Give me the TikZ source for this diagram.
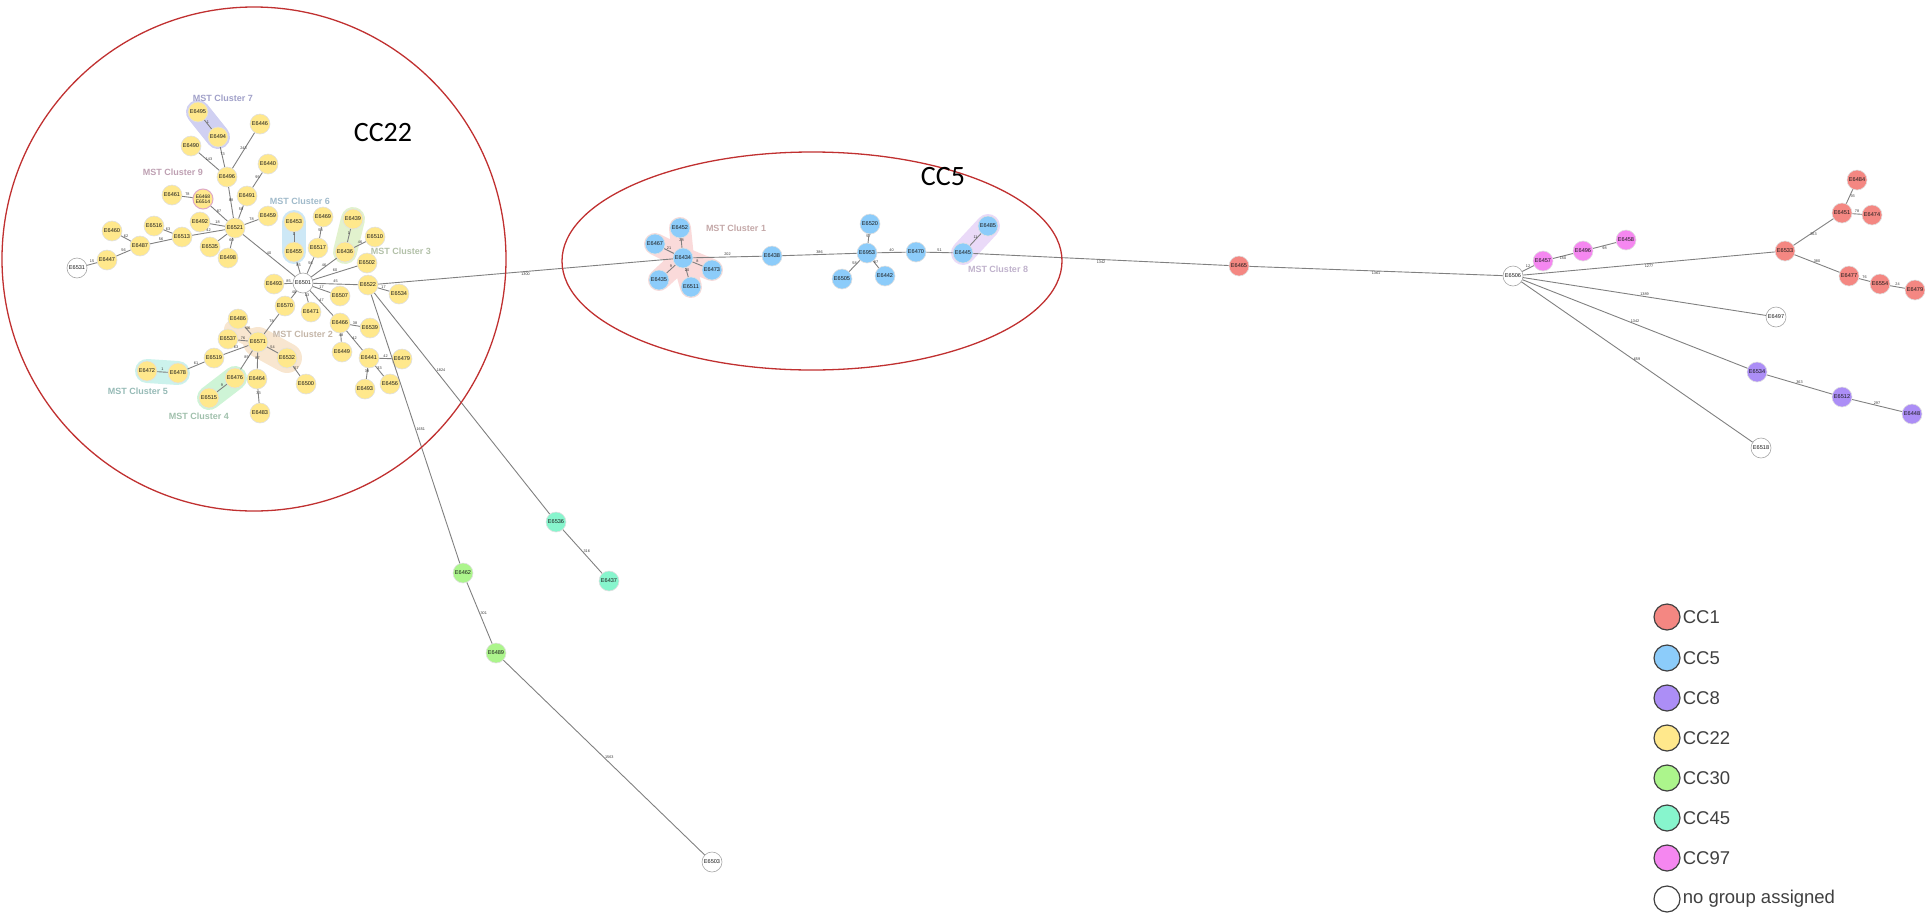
\documentclass[tikz,border=0pt]{standalone}
\usepackage{fontspec}
\setmainfont{Liberation Sans}
\newfontfamily\calib{Carlito}
\usetikzlibrary{backgrounds,calc}
\definecolor{cA}{RGB}{244,135,130}
\definecolor{cB}{RGB}{140,204,250}
\definecolor{cC}{RGB}{172,142,246}
\definecolor{cD}{RGB}{255,232,140}
\definecolor{cE}{RGB}{172,245,140}
\definecolor{cF}{RGB}{135,245,205}
\definecolor{cG}{RGB}{245,135,240}
\definecolor{ring}{RGB}{192,48,48}
\definecolor{h7}{RGB}{208,208,242}
\definecolor{h9}{RGB}{222,170,200}
\definecolor{h6}{RGB}{205,232,246}
\definecolor{h3}{RGB}{226,242,206}
\definecolor{h2}{RGB}{248,230,208}
\definecolor{h5}{RGB}{204,242,236}
\definecolor{h4}{RGB}{206,244,214}
\definecolor{h1}{RGB}{250,218,218}
\definecolor{h8}{RGB}{234,218,248}
\definecolor{t7}{RGB}{160,160,200}
\definecolor{t9}{RGB}{190,160,178}
\definecolor{t6}{RGB}{160,186,202}
\definecolor{t3}{RGB}{178,192,168}
\definecolor{t2}{RGB}{196,182,168}
\definecolor{t5}{RGB}{150,186,182}
\definecolor{t4}{RGB}{160,192,172}
\definecolor{t1}{RGB}{196,168,168}
\definecolor{t8}{RGB}{192,178,204}
\tikzset{
  nd/.style={circle,minimum size=20pt,inner sep=0pt,draw=black!12,line width=0.6pt,font=\fontsize{5.6}{6}\selectfont,text=black!90},
  ya/.style={nd,fill=cD},
  bl/.style={nd,fill=cB},
  rd/.style={nd,fill=cA},
  pu/.style={nd,fill=cC},
  gr/.style={nd,fill=cE},
  te/.style={nd,fill=cF},
  mg/.style={nd,fill=cG},
  wh/.style={nd,fill=white,draw=black!35},
  ed/.style={draw=black!50,line width=0.9pt},
  el/.style={font=\fontsize{3.8}{4}\selectfont,text=black!80,inner sep=0.6pt,midway,above},
  mst/.style={font=\bfseries\fontsize{9}{10}\selectfont},
  hl/.style={line width=24pt,line cap=round,line join=round},
  lg/.style={circle,minimum size=26pt,inner sep=0pt,draw=black!75,line width=1.2pt},
  lt/.style={anchor=west,font=\fontsize{18.5}{20}\selectfont,text=black!75,inner sep=2pt},
  big/.style={font=\calib\fontsize{28}{32}\selectfont}
}
\begin{document}
\begin{tikzpicture}[x=1pt,y=-1pt]
\useasboundingbox (0,0) rectangle (1925,916);
% ---------- CC22 ----------
\node[ya] (n6495) at (198,112) {E6495};
\node[ya] (n6494) at (218,137) {E6494};
\node[ya] (n6446) at (260,124) {E6446};
\node[ya] (n6490) at (191,146) {E6490};
\node[ya] (n6440) at (268,164) {E6440};
\node[ya] (n6496) at (227,177) {E6496};
\node[ya] (n6461) at (172,195) {E6461};
\node[ya,draw=h9,line width=1pt,align=center,font=\fontsize{5}{5.4}\selectfont] (n6468) at (203,199) {E6468\\E6514};
\node[ya] (n6491) at (247,196) {E6491};
\node[ya] (n6459) at (268,216) {E6459};
\node[ya] (n6492) at (200,222) {E6492};
\node[ya] (n6521) at (235,228) {E6521};
\node[ya] (n6516) at (154,226) {E6516};
\node[ya] (n6513) at (182,237) {E6513};
\node[ya] (n6487) at (140,246) {E6487};
\node[ya] (n6460) at (112,231) {E6460};
\node[ya] (n6447) at (107,260) {E6447};
\node[wh] (n6531) at (77,268) {E6531};
\node[ya] (n6535) at (210,247) {E6535};
\node[ya] (n6498) at (228,258) {E6498};
\node[ya] (n6453) at (294,222) {E6453};
\node[ya] (n6455) at (294,252) {E6455};
\node[ya] (n6469) at (323,217) {E6469};
\node[ya] (n6517) at (318,248) {E6517};
\node[ya] (n6439) at (353,219) {E6439};
\node[ya] (n6436) at (345,252) {E6436};
\node[ya] (n6510) at (375,237) {E6510};
\node[ya] (n6502) at (367,263) {E6502};
\node[ya] (n6493) at (274,284) {E6493};
\node[wh] (n6501) at (303,283) {E6501};
\node[ya] (n6522) at (368,285) {E6522};
\node[ya] (n6534) at (399,294) {E6534};
\node[ya] (n6507) at (340,296) {E6507};
\node[ya] (n6570) at (285,306) {E6570};
\node[ya] (n6471) at (311,312) {E6471};
\node[ya] (n6486) at (238,319) {E6486};
\node[ya] (n6571) at (258,342) {E6571};
\node[ya] (n6537) at (228,339) {E6537};
\node[ya] (n6466) at (340,323) {E6466};
\node[ya] (n6539) at (370,328) {E6539};
\node[ya] (n6519) at (214,358) {E6519};
\node[ya] (n6532) at (287,358) {E6532};
\node[ya] (n6449) at (342,352) {E6449};
\node[ya] (n6441) at (369,358) {E6441};
\node[ya] (n6479) at (402,359) {E6479};
\node[ya] (n6472) at (147,371) {E6472};
\node[ya] (n6478) at (178,373) {E6478};
\node[ya] (n6476) at (235,378) {E6476};
\node[ya] (n6464) at (257,379) {E6464};
\node[ya] (n6500) at (306,384) {E6500};
\node[ya] (n6493b) at (365,389) {E6493};
\node[ya] (n6456) at (390,384) {E6456};
\node[ya] (n6515) at (209,398) {E6515};
\node[ya] (n6483) at (260,413) {E6483};
% ---------- CC5 ----------
\node[bl] (n6452) at (680,228) {E6452};
\node[bl] (n6467) at (655,244) {E6467};
\node[bl] (n6434) at (683,258) {E6434};
\node[bl] (n6473) at (712,270) {E6473};
\node[bl] (n6435) at (659,280) {E6435};
\node[bl] (n6511) at (691,287) {E6511};
\node[bl] (n6438) at (772,256) {E6438};
\node[bl] (n6520) at (870,224) {E6520};
\node[bl] (n6953) at (867,253) {E6953};
\node[bl] (n6505) at (842,279) {E6505};
\node[bl] (n6442) at (885,276) {E6442};
\node[bl] (n6470) at (916,252) {E6470};
\node[bl] (n6445) at (963,253) {E6445};
\node[bl] (n6485) at (988,226) {E6485};
% ---------- right ----------
\node[rd] (n6465) at (1239,266) {E6465};
\node[wh] (n6506) at (1513,276) {E6506};
\node[mg] (n6457) at (1543,261) {E6457};
\node[mg] (n6496b) at (1583,251) {E6496};
\node[mg] (n6458) at (1626,240) {E6458};
\node[rd] (n6533) at (1785,251) {E6533};
\node[rd] (n6451) at (1842,213) {E6451};
\node[rd] (n6484) at (1857,180) {E6484};
\node[rd] (n6474) at (1872,215) {E6474};
\node[rd] (n6477) at (1849,276) {E6477};
\node[rd] (n6554) at (1880,284) {E6554};
\node[rd] (n6479b) at (1915,290) {E6479};
\node[wh] (n6497) at (1776,317) {E6497};
\node[pu] (n6534b) at (1757,372) {E6534};
\node[pu] (n6512) at (1842,397) {E6512};
\node[pu] (n6448) at (1912,414) {E6448};
\node[wh] (n6518) at (1761,448) {E6518};
% ---------- lower ----------
\node[te] (n6536) at (556,522) {E6536};
\node[te] (n6437) at (609,581) {E6437};
\node[gr] (n6462) at (463,573) {E6462};
\node[gr] (n6489) at (496,653) {E6489};
\node[wh] (n6503) at (712,862) {E6503};
% ---------- highlights ----------
\begin{pgfonlayer}{background}
\draw[hl,h7] (n6495.center)--(n6494.center);
\draw[hl,h6] (n6453.center)--(n6455.center);
\draw[hl,h3] (n6439.center)--(n6436.center);
\draw[hl,h2,line width=30pt] (n6571.center)--(n6532.center);
\draw[hl,h2,line width=18pt] (n6571.center)--($(n6537)!0.5!(n6486)$);
\draw[hl,h5] (n6472.center)--(n6478.center);
\draw[hl,h4] (n6476.center)--(n6515.center);
\draw[hl,h1,line width=22pt] (n6434.center)--(n6452.center) (n6434.center)--(n6467.center)
  (n6434.center)--(n6435.center) (n6434.center)--(n6511.center) (n6434.center)--(n6473.center);
\draw[hl,h8] (n6445.center)--(n6485.center);
\end{pgfonlayer}
% ---------- edges ----------
\draw[ed] (n6495)--node[el]{1}(n6494);
\draw[ed] (n6494)--node[el]{73}(n6496);
\draw[ed] (n6490)--node[el]{143}(n6496);
\draw[ed] (n6446)--node[el]{243}(n6496);
\draw[ed] (n6496)--node[el]{88}(n6521);
\draw[ed] (n6440)--node[el]{95}(n6491);
\draw[ed] (n6491)--node[el]{58}(n6521);
\draw[ed] (n6461)--node[el]{78}(n6468);
\draw[ed] (n6468)--node[el]{87}(n6521);
\draw[ed] (n6459)--node[el]{78}(n6521);
\draw[ed] (n6492)--node[el]{18}(n6521);
\draw[ed] (n6516)--node[el]{63}(n6513);
\draw[ed] (n6513)--node[el]{42}(n6521);
\draw[ed] (n6487)--node[el]{56}(n6513);
\draw[ed] (n6460)--node[el]{62}(n6487);
\draw[ed] (n6487)--node[el]{56}(n6447);
\draw[ed] (n6447)--node[el]{15}(n6531);
\draw[ed] (n6535)--(n6521);
\draw[ed] (n6498)--node[el]{60}(n6521);
\draw[ed] (n6521)--node[el]{40}(n6501);
\draw[ed] (n6453)--node[el]{1}(n6455);
\draw[ed] (n6455)--node[el]{85}(n6501);
\draw[ed] (n6469)--node[el]{58}(n6517);
\draw[ed] (n6517)--node[el]{56}(n6501);
\draw[ed] (n6439)--node[el]{1}(n6436);
\draw[ed] (n6510)--node[el]{46}(n6436);
\draw[ed] (n6436)--node[el]{46}(n6501);
\draw[ed] (n6502)--node[el]{60}(n6501);
\draw[ed] (n6493)--node[el]{85}(n6501);
\draw[ed] (n6501)--node[el]{45}(n6522);
\draw[ed] (n6522)--node[el]{17}(n6534);
\draw[ed] (n6501)--node[el]{17}(n6507);
\draw[ed] (n6501)--node[el]{40}(n6570);
\draw[ed] (n6501)--node[el]{13}(n6471);
\draw[ed] (n6501)--node[el]{47}(n6466);
\draw[ed] (n6570)--node[el]{78}(n6571);
\draw[ed] (n6571)--node[el]{46}(n6486);
\draw[ed] (n6571)--node[el]{76}(n6537);
\draw[ed] (n6571)--node[el]{63}(n6519);
\draw[ed] (n6519)--node[el]{61}(n6478);
\draw[ed] (n6478)--node[el]{1}(n6472);
\draw[ed] (n6571)--node[el]{85}(n6476);
\draw[ed] (n6476)--node[el]{9}(n6515);
\draw[ed] (n6571)--node[el]{87}(n6464);
\draw[ed] (n6464)--node[el]{33}(n6483);
\draw[ed] (n6571)--node[el]{54}(n6532);
\draw[ed] (n6532)--node[el]{57}(n6500);
\draw[ed] (n6466)--node[el]{38}(n6539);
\draw[ed] (n6466)--node[el]{48}(n6449);
\draw[ed] (n6466)--node[el]{42}(n6441);
\draw[ed] (n6441)--node[el]{42}(n6479);
\draw[ed] (n6441)--node[el]{38}(n6493b);
\draw[ed] (n6441)--node[el]{33}(n6456);
\draw[ed] (n6522)--node[el,right]{1651}(n6462);
\draw[ed] (n6522)--node[el,right,pos=0.35]{1824}(n6536);
\draw[ed] (n6522)--node[el,below]{1300}(n6434);
\draw[ed] (n6536)--node[el,right]{316}(n6437);
\draw[ed] (n6462)--node[el,right]{301}(n6489);
\draw[ed] (n6489)--node[el,right]{1563}(n6503);
\draw[ed] (n6434)--node[el]{28}(n6452);
\draw[ed] (n6434)--node[el]{21}(n6467);
\draw[ed] (n6434)--node[el]{9}(n6435);
\draw[ed] (n6434)--node[el]{20}(n6511);
\draw[ed] (n6434)--node[el]{8}(n6473);
\draw[ed] (n6434)--node[el]{202}(n6438);
\draw[ed] (n6438)--node[el]{386}(n6953);
\draw[ed] (n6953)--node[el]{57}(n6520);
\draw[ed] (n6953)--node[el]{58}(n6505);
\draw[ed] (n6953)--node[el]{87}(n6442);
\draw[ed] (n6953)--node[el]{40}(n6470);
\draw[ed] (n6470)--node[el]{51}(n6445);
\draw[ed] (n6445)--node[el]{11}(n6485);
\draw[ed] (n6445)--node[el,below]{1342}(n6465);
\draw[ed] (n6465)--node[el,below]{1361}(n6506);
\draw[ed] (n6506)--node[el]{12}(n6457);
\draw[ed] (n6457)--node[el,below]{150}(n6496b);
\draw[ed] (n6496b)--node[el,below]{98}(n6458);
\draw[ed] (n6506)--node[el,below]{1277}(n6533);
\draw[ed] (n6506)--node[el]{1389}(n6497);
\draw[ed] (n6506)--node[el]{1342}(n6534b);
\draw[ed] (n6506)--node[el]{659}(n6518);
\draw[ed] (n6533)--node[el,below]{263}(n6451);
\draw[ed] (n6451)--node[el,right]{93}(n6484);
\draw[ed] (n6451)--node[el]{78}(n6474);
\draw[ed] (n6533)--node[el]{380}(n6477);
\draw[ed] (n6477)--node[el]{76}(n6554);
\draw[ed] (n6554)--node[el]{24}(n6479b);
\draw[ed] (n6534b)--node[el]{363}(n6512);
\draw[ed] (n6512)--node[el]{297}(n6448);
% ---------- cluster labels ----------
\node[mst,t7] (m7) at (223,98) {MST Cluster 7};
\node[mst,t9] (m9) at (173,172) {MST Cluster 9};
\node[mst,t6] (m6) at (300,201) {MST Cluster 6};
\node[mst,t3] (m3) at (401,251) {MST Cluster 3};
\node[mst,t2] (m2) at (303,334) {MST Cluster 2};
\node[mst,t5] (m5) at (138,391) {MST Cluster 5};
\node[mst,t4] (m4) at (199,416) {MST Cluster 4};
\node[mst,t1] (m1) at (736,228) {MST Cluster 1};
\node[mst,t8] (m8) at (998,269) {MST Cluster 8};
% ---------- rings ----------
\draw[ring,line width=1.3pt] (254,259) ellipse [x radius=252pt,y radius=252pt];
\draw[ring,line width=1.3pt] (812,261) ellipse [x radius=250pt,y radius=109pt];
\node[big] (l22) at (383,133) {CC22};
\node[big] (l5) at (943,177) {CC5};
% ---------- legend ----------
\node[lg,fill=cA] (g1) at (1667,617) {};
\node[lt] (k1) at (g1.east) {CC1};
\node[lg,fill=cB] (g2) at (1667,658) {};
\node[lt] (k2) at (g2.east) {CC5};
\node[lg,fill=cC] (g3) at (1667,698) {};
\node[lt] (k3) at (g3.east) {CC8};
\node[lg,fill=cD] (g4) at (1667,738) {};
\node[lt] (k4) at (g4.east) {CC22};
\node[lg,fill=cE] (g5) at (1667,778) {};
\node[lt] (k5) at (g5.east) {CC30};
\node[lg,fill=cF] (g6) at (1667,818) {};
\node[lt] (k6) at (g6.east) {CC45};
\node[lg,fill=cG] (g7) at (1667,858) {};
\node[lt] (k7) at (g7.east) {CC97};
\node[lg,fill=white] (g8) at (1667,899) {};
\node[lt] (k8) at (g8.east) {no group assigned};
\end{tikzpicture}
\end{document}
